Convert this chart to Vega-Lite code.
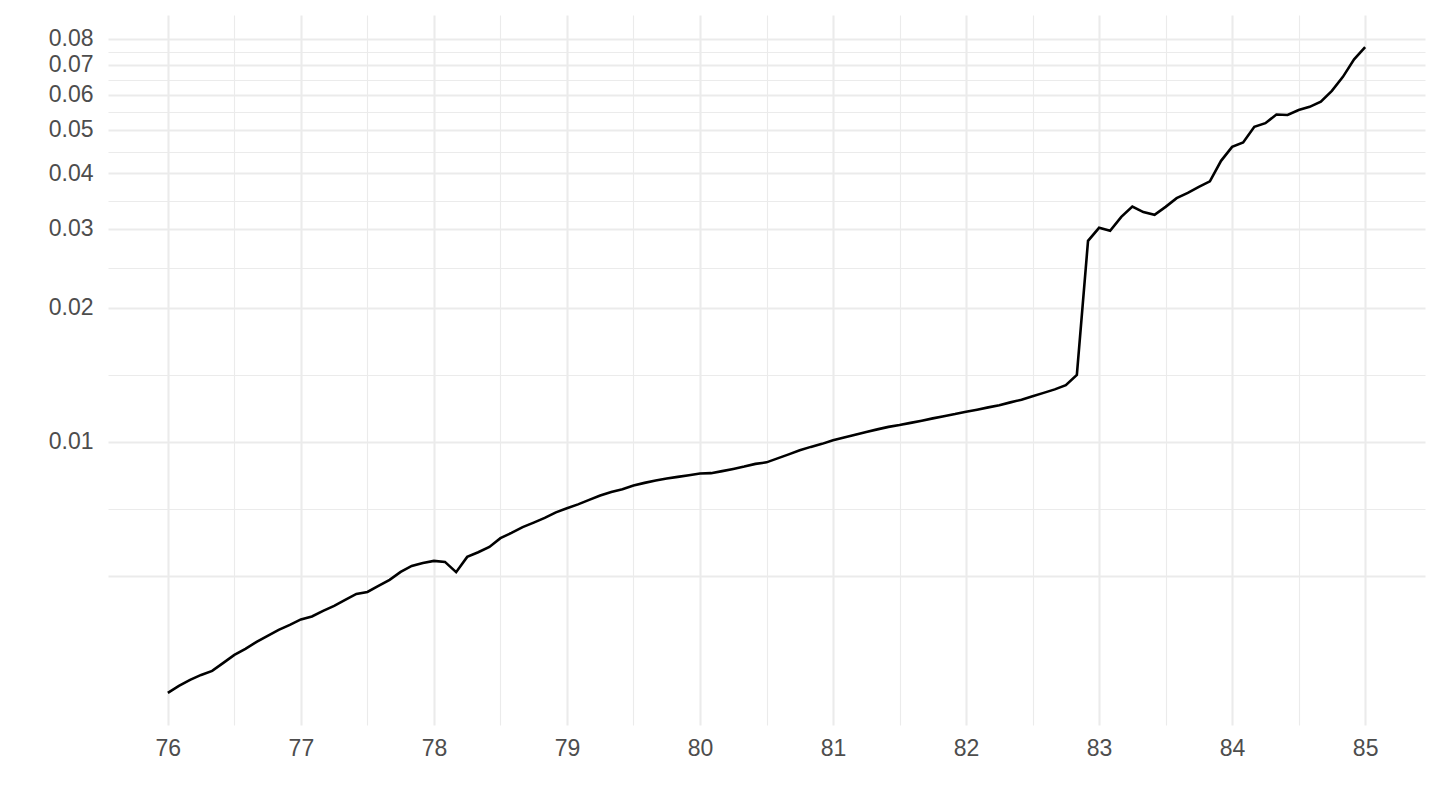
{
  "$schema": "https://vega.github.io/schema/vega-lite/v6.json",
  "width": 1317,
  "height": 710,
  "autosize": {"type": "none"},
  "padding": {"left": 108, "top": 15, "right": 15, "bottom": 85},
  "background": "white",
  "config": {
    "view": {"stroke": null},
    "axis": {"labelFont": "Liberation Sans", "labelFontSize": 23, "labelColor": "#4d4d4d", "gridColor": "#ebebeb", "domain": false, "ticks": false, "tickSize": 0, "title": null}
  },
  "data": {"values": [
    {"x": 76.000, "y": 0.002739}, {"x": 76.083, "y": 0.002839}, {"x": 76.167, "y": 0.002928}, {"x": 76.250, "y": 0.003004},
    {"x": 76.333, "y": 0.003067}, {"x": 76.417, "y": 0.003196}, {"x": 76.500, "y": 0.003331}, {"x": 76.583, "y": 0.003436},
    {"x": 76.667, "y": 0.003562}, {"x": 76.750, "y": 0.003674}, {"x": 76.833, "y": 0.003790}, {"x": 76.917, "y": 0.003889},
    {"x": 77.000, "y": 0.004001}, {"x": 77.083, "y": 0.004063}, {"x": 77.167, "y": 0.004180}, {"x": 77.250, "y": 0.004290},
    {"x": 77.333, "y": 0.004424}, {"x": 77.417, "y": 0.004563}, {"x": 77.500, "y": 0.004610}, {"x": 77.583, "y": 0.004755},
    {"x": 77.667, "y": 0.004905}, {"x": 77.750, "y": 0.005112}, {"x": 77.833, "y": 0.005273}, {"x": 77.917, "y": 0.005355},
    {"x": 78.000, "y": 0.005411}, {"x": 78.083, "y": 0.005383}, {"x": 78.167, "y": 0.005105}, {"x": 78.250, "y": 0.005524},
    {"x": 78.333, "y": 0.005659}, {"x": 78.417, "y": 0.005816}, {"x": 78.500, "y": 0.006083}, {"x": 78.583, "y": 0.006252},
    {"x": 78.667, "y": 0.006442}, {"x": 78.750, "y": 0.006592}, {"x": 78.833, "y": 0.006755}, {"x": 78.917, "y": 0.006950},
    {"x": 79.000, "y": 0.007101}, {"x": 79.083, "y": 0.007242}, {"x": 79.167, "y": 0.007413}, {"x": 79.250, "y": 0.007580},
    {"x": 79.333, "y": 0.007724}, {"x": 79.417, "y": 0.007834}, {"x": 79.500, "y": 0.007981}, {"x": 79.583, "y": 0.008093},
    {"x": 79.667, "y": 0.008189}, {"x": 79.750, "y": 0.008274}, {"x": 79.833, "y": 0.008346}, {"x": 79.917, "y": 0.008419},
    {"x": 80.000, "y": 0.008492}, {"x": 80.083, "y": 0.008509}, {"x": 80.167, "y": 0.008600}, {"x": 80.250, "y": 0.008698},
    {"x": 80.333, "y": 0.008803}, {"x": 80.417, "y": 0.008926}, {"x": 80.500, "y": 0.008997}, {"x": 80.583, "y": 0.009184},
    {"x": 80.667, "y": 0.009375}, {"x": 80.750, "y": 0.009581}, {"x": 80.833, "y": 0.009745}, {"x": 80.917, "y": 0.009897},
    {"x": 81.000, "y": 0.010088}, {"x": 81.083, "y": 0.010230}, {"x": 81.167, "y": 0.010379}, {"x": 81.250, "y": 0.010519},
    {"x": 81.333, "y": 0.010666}, {"x": 81.417, "y": 0.010805}, {"x": 81.500, "y": 0.010905}, {"x": 81.583, "y": 0.011030},
    {"x": 81.667, "y": 0.011156}, {"x": 81.750, "y": 0.011289}, {"x": 81.833, "y": 0.011418}, {"x": 81.917, "y": 0.011542},
    {"x": 82.000, "y": 0.011686}, {"x": 82.083, "y": 0.011808}, {"x": 82.167, "y": 0.011948}, {"x": 82.250, "y": 0.012085},
    {"x": 82.333, "y": 0.012261}, {"x": 82.417, "y": 0.012434}, {"x": 82.500, "y": 0.012647}, {"x": 82.583, "y": 0.012876},
    {"x": 82.667, "y": 0.013112}, {"x": 82.750, "y": 0.013399}, {"x": 82.833, "y": 0.014127}, {"x": 82.917, "y": 0.028217},
    {"x": 83.000, "y": 0.030177}, {"x": 83.083, "y": 0.029715}, {"x": 83.167, "y": 0.031938}, {"x": 83.250, "y": 0.033681},
    {"x": 83.333, "y": 0.032723}, {"x": 83.417, "y": 0.032266}, {"x": 83.500, "y": 0.033629}, {"x": 83.583, "y": 0.035172},
    {"x": 83.667, "y": 0.036141}, {"x": 83.750, "y": 0.037280}, {"x": 83.833, "y": 0.038352}, {"x": 83.917, "y": 0.042640},
    {"x": 84.000, "y": 0.045826}, {"x": 84.083, "y": 0.046861}, {"x": 84.167, "y": 0.050815}, {"x": 84.250, "y": 0.051786},
    {"x": 84.333, "y": 0.054139}, {"x": 84.417, "y": 0.054002}, {"x": 84.500, "y": 0.055412}, {"x": 84.583, "y": 0.056339},
    {"x": 84.667, "y": 0.057866}, {"x": 84.750, "y": 0.061185}, {"x": 84.833, "y": 0.065766}, {"x": 84.917, "y": 0.071977},
    {"x": 85.000, "y": 0.076650}
  ]},
  "layer": [
    {
      "mark": {"type": "line", "strokeOpacity": 0},
      "encoding": {
        "x": {"field": "x", "type": "quantitative",
          "scale": {"domain": [75.55, 85.45], "nice": false, "zero": false},
          "axis": {"orient": "bottom", "values": [76.5, 77.5, 78.5, 79.5, 80.5, 81.5, 82.5, 83.5, 84.5], "labels": false, "grid": true, "gridWidth": 1.1, "minExtent": 0, "maxExtent": 0}},
        "y": {"field": "y", "type": "quantitative",
          "scale": {"type": "log", "domain": [0.00232, 0.0905], "nice": false, "zero": false},
          "axis": {"orient": "left", "values": [0.0070711, 0.0141421, 0.0244949, 0.0346410, 0.0447214, 0.0547723, 0.0648074, 0.0748331], "labels": false, "grid": true, "gridWidth": 1.1, "minExtent": 0, "maxExtent": 0}}
      }
    },
    {
      "mark": {"type": "line", "color": "black", "strokeWidth": 2.6},
      "encoding": {
        "x": {"field": "x", "type": "quantitative",
          "scale": {"domain": [75.55, 85.45], "nice": false, "zero": false},
          "axis": {"orient": "bottom", "values": [76, 77, 78, 79, 80, 81, 82, 83, 84, 85], "format": "d", "grid": true, "gridWidth": 2.1, "labelPadding": 12, "labelBaseline": "top"}},
        "y": {"field": "y", "type": "quantitative",
          "scale": {"type": "log", "domain": [0.00232, 0.0905], "nice": false, "zero": false},
          "axis": {"orient": "left", "values": [0.005, 0.01, 0.02, 0.03, 0.04, 0.05, 0.06, 0.07, 0.08], "labelExpr": "datum.value < 0.007 ? '' : format(datum.value, '.2f')", "grid": true, "gridWidth": 2.1, "labelPadding": 15, "labelBaseline": "middle", "labelAlign": "right", "labelOverlap": false}}
      }
    }
  ],
  "resolve": {"scale": {"x": "independent", "y": "independent"}, "axis": {"x": "independent", "y": "independent"}}
}
